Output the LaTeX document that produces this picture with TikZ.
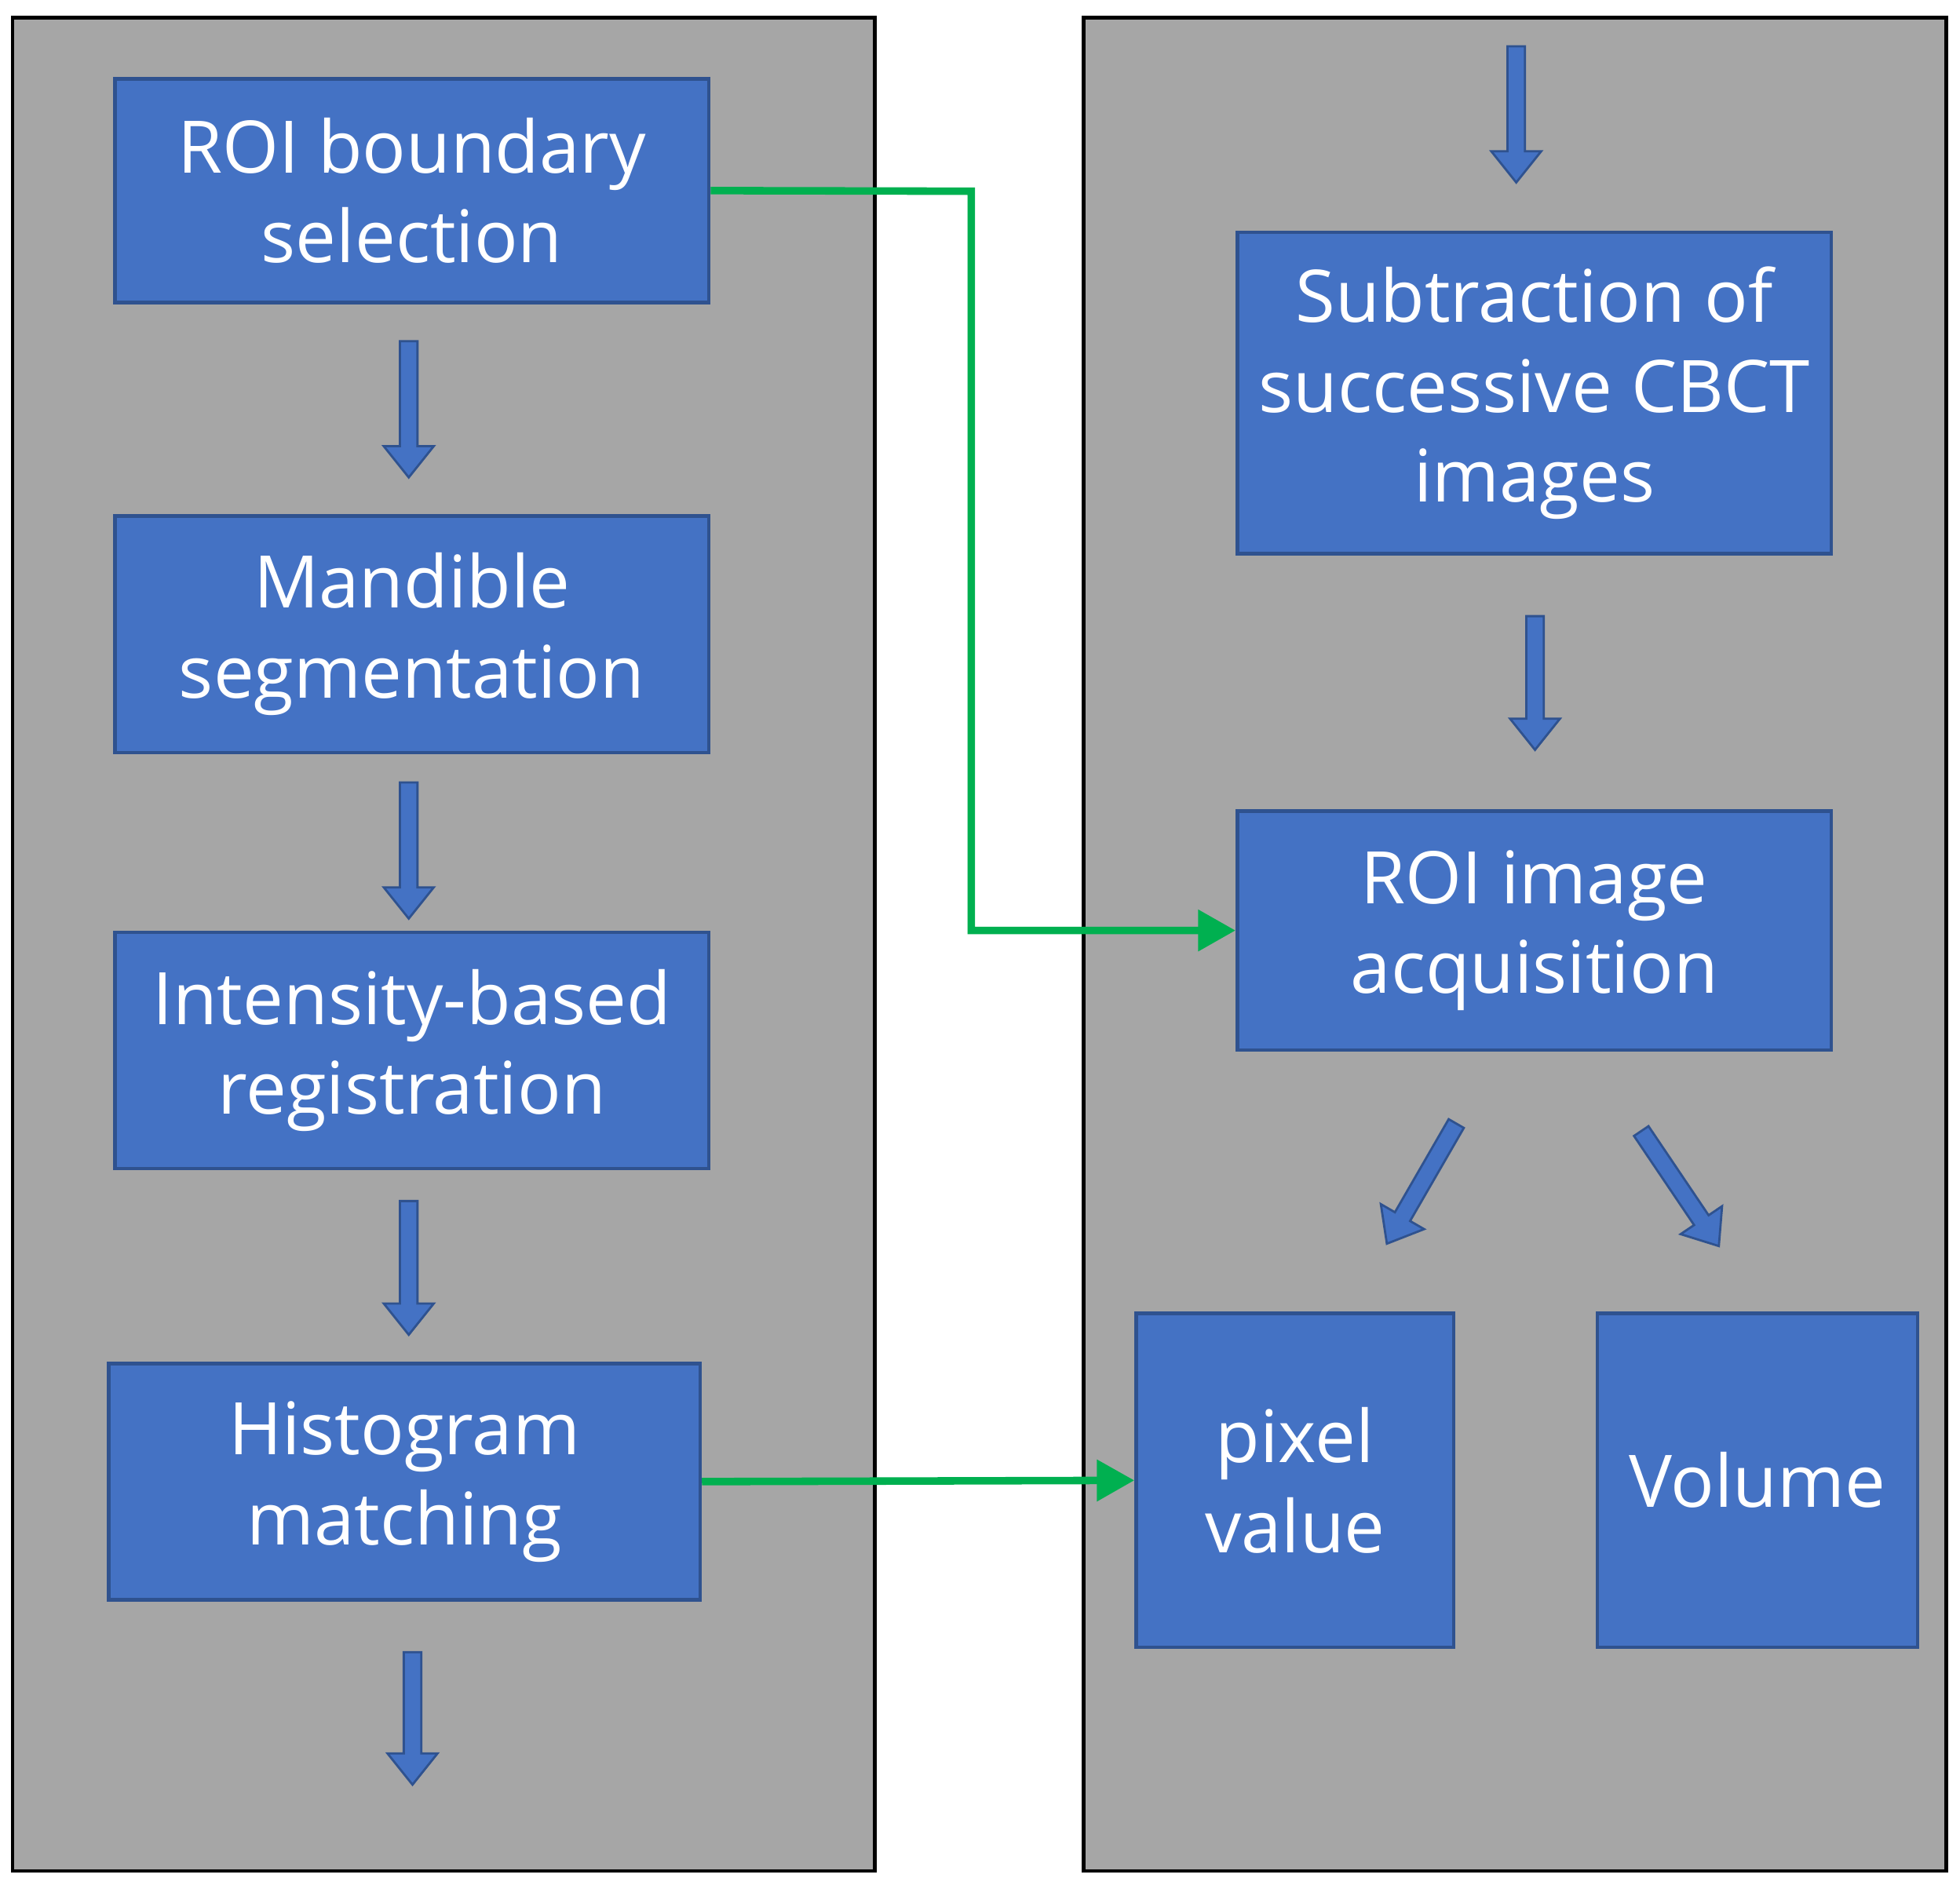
\documentclass[tikz,border=0pt]{standalone}
\usepackage{fontspec}
\setmainfont{Open Sans}
\begin{document}
\begin{tikzpicture}[x=0.01cm,y=-0.01cm,
  panel/.style={fill=panelgray,draw=black,line width=0.8pt},
  box/.style={fill=boxblue,draw=boxedge,line width=0.8pt,text=white,align=center,
    font=\fontsize{16.5}{20.5}\selectfont,inner sep=0pt},
  green/.style={draw=arrowgreen,line width=0.06cm,-{Triangle[length=0.3cm,width=0.32cm]}},
  pics/barrow/.style={code={\draw[fill=boxblue,draw=boxedge,line width=0.5pt]
    (0,-7)--(#1-25,-7)--(#1-25,-20)--(#1,0)--(#1-25,20)--(#1-25,7)--(0,7)--cycle;}}]
\definecolor{panelgray}{HTML}{A6A6A6}
\definecolor{boxblue}{HTML}{4472C4}
\definecolor{boxedge}{HTML}{2F528F}
\definecolor{arrowgreen}{HTML}{00B050}
\usetikzlibrary{arrows.meta}
\useasboundingbox (0,0) rectangle (1568,1511);
\draw[panel] (10,14) rectangle (700,1497);
\draw[panel] (867,14) rectangle (1557,1497);
\node[box,minimum width=4.75cm,minimum height=1.79cm] (roi) at (329.5,152.5) {ROI boundary\\selection};
\node[box,minimum width=4.75cm,minimum height=1.89cm] (mand) at (329.5,507.5) {Mandible\\segmentation};
\node[box,minimum width=4.75cm,minimum height=1.89cm] (int) at (329.5,840.5) {Intensity-based\\registration};
\node[box,minimum width=4.73cm,minimum height=1.89cm] (hist) at (323.5,1185.5) {Histogram\\matching};
\node[box,minimum width=4.75cm,minimum height=2.57cm] (sub) at (1227.5,314.5) {Subtraction of\\successive CBCT\\images};
\node[box,minimum width=4.75cm,minimum height=1.91cm] (roiimg) at (1227.5,744.5) {ROI image\\acquisition};
\node[box,minimum width=2.54cm,minimum height=2.67cm] (pix) at (1036,1184.5) {pixel\\value};
\node[box,minimum width=2.56cm,minimum height=2.67cm] (vol) at (1406,1184.5) {Volume};
\pic[rotate=-90] at (327,273) {barrow=109};
\pic[rotate=-90] at (327,626) {barrow=109};
\pic[rotate=-90] at (327,961) {barrow=107};
\pic[rotate=-90] at (330,1322) {barrow=106};
\pic[rotate=-90] at (1213,37) {barrow=109};
\pic[rotate=-90] at (1228,493) {barrow=107};
\pic[rotate=-120] at (1165,899) {barrow=111};
\pic[rotate=-56] at (1313,905) {barrow=111};
\coordinate (c1) at (777,153);
\draw[green] (roi.east) -- (c1) |- (roiimg.west);
\draw[green] (hist.east) -- (pix.west);
\end{tikzpicture}
\end{document}
